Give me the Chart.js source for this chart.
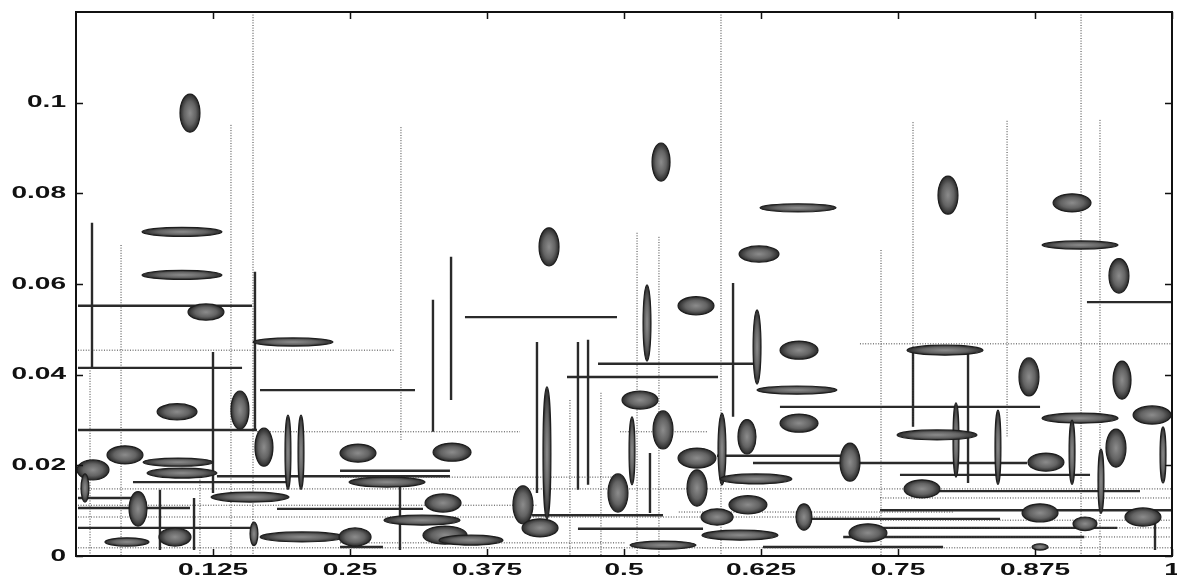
<!DOCTYPE html>
<html>
<head>
<meta charset="utf-8">
<script src="https://cdn.jsdelivr.net/npm/chart.js@4.4.1/dist/chart.umd.min.js"></script>
<style>
  html, body { margin: 0; padding: 0; background: #fff; }
  #wrap { width: 1177px; height: 580px; }
</style>
</head>
<body>
<div id="wrap"><canvas id="atomChart"></canvas></div>
<script>
'use strict';

// ---- axis ticks ----
const xTicks = [0.125, 0.25, 0.375, 0.5, 0.625, 0.75, 0.875, 1];
const xTickLabels = ['0.125', '0.25', '0.375', '0.5', '0.625', '0.75', '0.875', '1'];
const yTicks = [0, 0.02, 0.04, 0.06, 0.08, 0.1];
const yTickLabels = ['0', '0.02', '0.04', '0.06', '0.08', '0.1'];

// ---- time-frequency atoms (centre, half-width in time, half-height in freq) ----
const atomX = [0.104, 0.0967, 0.0967, 0.4316, 0.5338, 0.6588, 0.6232, 0.7956, 0.9088, 0.9161, 0.9516,
  0.1186, 0.198, 0.0922, 0.1496, 0.1715, 0.1934, 0.2053, 0.0447, 0.0931, 0.0155, 0.0082, 0.0967, 0.1588, 0.0566, 0.0903, 0.0465, 0.1624, 0.2062,
  0.4297, 0.2573, 0.3431, 0.2838, 0.5146, 0.4078, 0.4945, 0.3349, 0.3157, 0.4234, 0.3367, 0.3604, 0.2546,
  0.521, 0.5657, 0.6214, 0.6597, 0.6578, 0.6597, 0.5356, 0.5073, 0.5894, 0.6122, 0.5666, 0.7062, 0.5666, 0.6204, 0.6131, 0.5849, 0.6642, 0.7226, 0.6058, 0.5356,
  0.7929, 0.8695, 0.9544, 0.9161, 0.9818, 0.8029, 0.8412, 0.7856, 0.9489, 0.9088, 0.9352, 0.9918, 0.885, 0.7719, 0.8796, 0.9735, 0.9206, 0.8796];
const atomY = [0.0977, 0.0715, 0.062, 0.0682, 0.0869, 0.0768, 0.0666, 0.0796, 0.0779, 0.0686, 0.0618,
  0.0538, 0.0472, 0.0318, 0.0322, 0.024, 0.0229, 0.0229, 0.0223, 0.0207, 0.019, 0.015, 0.0183, 0.013, 0.0104, 0.0042, 0.0031, 0.0049, 0.0042,
  0.0227, 0.0227, 0.0229, 0.0163, 0.0344, 0.0113, 0.0139, 0.0117, 0.0079, 0.0062, 0.0046, 0.0035, 0.0042,
  0.0514, 0.0552, 0.0461, 0.0454, 0.0366, 0.0293, 0.0278, 0.0232, 0.0236, 0.0263, 0.0216, 0.0207, 0.015, 0.017, 0.0113, 0.0086, 0.0086, 0.0051, 0.0046, 0.0024,
  0.0454, 0.0395, 0.0388, 0.0304, 0.0311, 0.0256, 0.024, 0.0267, 0.0238, 0.0229, 0.0165, 0.0223, 0.0207, 0.0148, 0.0095, 0.0086, 0.0071, 0.002];
const atomRx = [0.0091, 0.0365, 0.0365, 0.0091, 0.0082, 0.0347, 0.0182, 0.0091, 0.0173, 0.0347, 0.0091,
  0.0164, 0.0365, 0.0182, 0.0082, 0.0082, 0.0027, 0.0027, 0.0164, 0.0319, 0.0146, 0.0036, 0.0319, 0.0356, 0.0082, 0.0146, 0.0201, 0.0036, 0.0383,
  0.0036, 0.0164, 0.0173, 0.0347, 0.0164, 0.0091, 0.0091, 0.0164, 0.0347, 0.0164, 0.0201, 0.0292, 0.0146,
  0.0036, 0.0164, 0.0036, 0.0173, 0.0365, 0.0173, 0.0091, 0.0027, 0.0036, 0.0082, 0.0173, 0.0091, 0.0091, 0.0328, 0.0173, 0.0146, 0.0073, 0.0173, 0.0347, 0.0301,
  0.0347, 0.0091, 0.0082, 0.0347, 0.0173, 0.0027, 0.0027, 0.0365, 0.0091, 0.0027, 0.0027, 0.0027, 0.0164, 0.0164, 0.0164, 0.0164, 0.0109, 0.0073];
const atomRy = [0.0042, 0.001, 0.001, 0.0042, 0.0042, 0.0009, 0.0018, 0.0042, 0.002, 0.0009, 0.0038,
  0.0018, 0.0009, 0.0018, 0.0042, 0.0042, 0.0082, 0.0082, 0.002, 0.0009, 0.0022, 0.0031, 0.0011, 0.0011, 0.0038, 0.002, 0.0009, 0.0026, 0.0011,
  0.0146, 0.002, 0.002, 0.0011, 0.002, 0.0042, 0.0042, 0.002, 0.0011, 0.002, 0.002, 0.0011, 0.002,
  0.0084, 0.002, 0.0082, 0.002, 0.0009, 0.002, 0.0042, 0.0075, 0.0079, 0.0038, 0.0022, 0.0042, 0.004, 0.0011, 0.002, 0.0018, 0.0029, 0.002, 0.0011, 0.0009,
  0.0011, 0.0042, 0.0042, 0.0011, 0.002, 0.0082, 0.0082, 0.0011, 0.0042, 0.0071, 0.0071, 0.0062, 0.002, 0.002, 0.002, 0.002, 0.0015, 0.0007];

// ---- heavy tiling edges ----
const hSegY  = [0.0552, 0.0415, 0.0366, 0.0278, 0.0176, 0.0163, 0.0106, 0.0104, 0.0062, 0.0527, 0.0395, 0.0424, 0.009, 0.006, 0.002, 0.0329, 0.0221, 0.0205, 0.0082, 0.0179, 0.0143, 0.056, 0.0101, 0.002, 0.0188, 0.0062, 0.0042, 0.0128];
const hSegX0 = [0.0018, 0.0018, 0.1679, 0.0018, 0.1286, 0.052, 0.0018, 0.1834, 0.0018, 0.3549, 0.448, 0.4763, 0.4161, 0.458, 0.6268, 0.6423, 0.5849, 0.6177, 0.667, 0.7518, 0.7728, 0.9224, 0.7336, 0.2409, 0.2409, 0.7336, 0.70, 0.0018];
const hSegX1 = [0.1606, 0.1515, 0.3093, 0.1651, 0.3412, 0.1925, 0.104, 0.3166, 0.1624, 0.4936, 0.5858, 0.6214, 0.5356, 0.5721, 0.7911, 0.8796, 0.6971, 0.8677, 0.8431, 0.9252, 0.9708, 1.0, 1.0, 0.2801, 0.3412, 0.95, 0.92, 0.0620];

const vSegX  = [0.0146, 0.1633, 0.125, 0.0766, 0.1077, 0.2956, 0.3257, 0.3422, 0.4206, 0.458, 0.4672, 0.5995, 0.5237, 0.7637, 0.8139, 0.9845];
const vSegY0 = [0.0735, 0.0627, 0.045, 0.0146, 0.0128, 0.0152, 0.0565, 0.066, 0.0472, 0.0472, 0.0477, 0.0602, 0.0227, 0.0454, 0.0454, 0.0079];
const vSegY1 = [0.0415, 0.0278, 0.0139, 0.0013, 0.0013, 0.0013, 0.0274, 0.0344, 0.0139, 0.0146, 0.0157, 0.0307, 0.0095, 0.0285, 0.0161, 0.0013];

// ---- faint dotted edges ----
const dotHY  = [0.0454, 0.0274, 0.0274, 0.0468, 0.0148, 0.0086, 0.0018, 0.0174, 0.0029, 0.0128, 0.0079, 0.0062, 0.0042, 0.0086, 0.0112, 0.0097];
const dotHX0 = [0.0018, 0.1651, 0.4964, 0.7153, 0.0018, 0.0018, 0.0018, 0.2409, 0.2409, 0.7336, 0.7336, 0.7336, 0.7336, 0.5, 0.0018, 0.55];
const dotHX1 = [0.2911, 0.4051, 0.5757, 1.0, 1.0, 0.4964, 1.0, 0.4964, 0.5018, 1.0, 1.0, 1.0, 1.0, 0.7336, 0.42, 0.80];

const dotVX  = [0.0128, 0.0411, 0.1414, 0.1615, 0.1131, 0.2965, 0.4507, 0.479, 0.5119, 0.5319, 0.5885, 0.7345, 0.7637, 0.8495, 0.917, 0.9343];
const dotVY0 = [0.0415, 0.0686, 0.0951, 0.12, 0.0174, 0.0946, 0.0344, 0.036, 0.0713, 0.0704, 0.12, 0.0675, 0.0957, 0.096, 0.12, 0.0962];
const dotVY1 = [0, 0, 0, 0, 0, 0.0256, 0, 0, 0, 0, 0, 0, 0.0285, 0.0263, 0, 0];

// Build gap-separated point lists so one dataset can hold many segments
function hSegments(ys, x0s, x1s) {
  const pts = [];
  ys.forEach((y, i) => pts.push({ x: x0s[i], y }, { x: x1s[i], y }, { x: x1s[i], y: null }));
  return pts;
}
function vSegments(xs, y0s, y1s) {
  const pts = [];
  xs.forEach((x, i) => pts.push({ x, y: y0s[i] }, { x, y: y1s[i] }, { x, y: null }));
  return pts;
}

const ATOM_SET = 4;

// Ellipses drawn at each atom point, sized through the scales
const atomPlugin = {
  id: 'atoms',
  afterDatasetsDraw(chart) {
    const { ctx, chartArea, scales: { x, y } } = chart;
    const meta = chart.getDatasetMeta(ATOM_SET);
    ctx.save();
    ctx.beginPath();
    ctx.rect(chartArea.left, chartArea.top, chartArea.width, chartArea.height);
    ctx.clip();
    meta.data.forEach((pt, i) => {
      const rx = Math.max(1.5, Math.abs(x.getPixelForValue(atomX[i] + atomRx[i]) - pt.x));
      const ry = Math.max(1.5, Math.abs(y.getPixelForValue(atomY[i] + atomRy[i]) - pt.y));
      ctx.save();
      ctx.translate(pt.x, pt.y);
      ctx.scale(rx, ry);
      const g = ctx.createRadialGradient(0, 0, 0, 0, 0, 1);
      g.addColorStop(0, '#8c8c8c');
      g.addColorStop(0.6, '#636363');
      g.addColorStop(1, '#2a2a2a');
      ctx.beginPath();
      ctx.arc(0, 0, 1, 0, Math.PI * 2);
      ctx.fillStyle = g;
      ctx.fill();
      ctx.restore();
      ctx.beginPath();
      ctx.ellipse(pt.x, pt.y, rx, ry, 0, 0, Math.PI * 2);
      ctx.lineWidth = 1.2;
      ctx.strokeStyle = '#1e1e1e';
      ctx.stroke();
    });
    ctx.restore();
  }
};

// Box frame, inward tick marks and widened tick labels
const framePlugin = {
  id: 'frame',
  afterDraw(chart) {
    const { ctx, chartArea: a, scales: { x, y } } = chart;
    ctx.save();
    ctx.strokeStyle = '#111';
    ctx.lineWidth = 2;
    ctx.strokeRect(a.left, a.top, a.width, a.height);

    ctx.lineWidth = 1.5;
    ctx.beginPath();
    xTicks.forEach(v => {
      const px = Math.round(x.getPixelForValue(v)) + 0.5;
      ctx.moveTo(px, a.bottom); ctx.lineTo(px, a.bottom - 7);
      ctx.moveTo(px, a.top); ctx.lineTo(px, a.top + 7);
    });
    yTicks.forEach(v => {
      const py = Math.round(y.getPixelForValue(v)) + 0.5;
      ctx.moveTo(a.left, py); ctx.lineTo(a.left + 7, py);
      ctx.moveTo(a.right, py); ctx.lineTo(a.right - 7, py);
    });
    ctx.stroke();

    ctx.fillStyle = '#111';
    ctx.font = 'bold 17px "Liberation Sans", Arial, sans-serif';
    ctx.textBaseline = 'middle';
    ctx.textAlign = 'center';
    xTicks.forEach((v, i) => {
      ctx.save();
      ctx.translate(x.getPixelForValue(v), a.bottom + 14);
      ctx.scale(1.65, 1);
      ctx.fillText(xTickLabels[i], 0, 0);
      ctx.restore();
    });
    ctx.textAlign = 'right';
    yTicks.forEach((v, i) => {
      ctx.save();
      ctx.translate(a.left - 10, y.getPixelForValue(v));
      ctx.scale(1.65, 1);
      ctx.fillText(yTickLabels[i], 0, 0);
      ctx.restore();
    });
    ctx.restore();
  }
};

const heavy = { showLine: true, spanGaps: false, pointRadius: 0, borderColor: '#2a2a2a', borderWidth: 2.4, borderCapStyle: 'butt' };
const faint = { showLine: true, spanGaps: false, pointRadius: 0, borderColor: '#3c3c3c', borderWidth: 1, borderDash: [1, 1.6] };

new Chart(document.getElementById('atomChart'), {
  type: 'scatter',
  data: {
    datasets: [
      { ...faint, data: hSegments(dotHY, dotHX0, dotHX1) },
      { ...faint, data: vSegments(dotVX, dotVY0, dotVY1) },
      { ...heavy, data: hSegments(hSegY, hSegX0, hSegX1) },
      { ...heavy, data: vSegments(vSegX, vSegY0, vSegY1) },
      { data: atomX.map((v, i) => ({ x: v, y: atomY[i] })), pointRadius: 0, showLine: false }
    ]
  },
  options: {
    responsive: true,
    maintainAspectRatio: false,
    animation: false,
    layout: { padding: { left: 76, right: 5, top: 12, bottom: 24 } },
    plugins: { legend: { display: false }, tooltip: { enabled: false } },
    scales: {
      x: { type: 'linear', display: false, min: 0, max: 1 },
      y: { type: 'linear', display: false, min: 0, max: 0.12 }
    }
  },
  plugins: [atomPlugin, framePlugin]
});
</script>
</body>
</html>
